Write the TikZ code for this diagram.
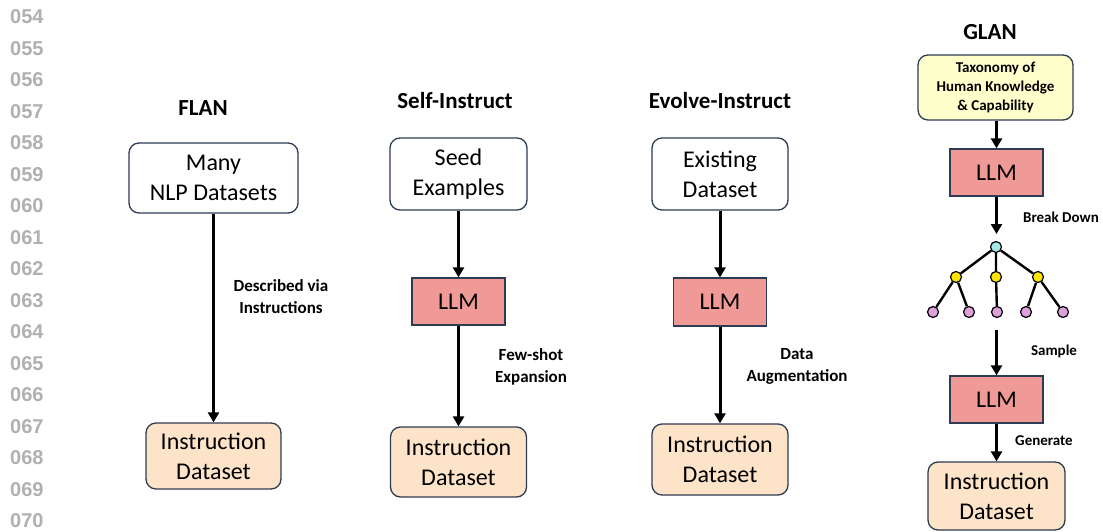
\documentclass[tikz,border=0pt]{standalone}
\usepackage{fontspec}
\setmainfont{Carlito}
\newfontfamily\numfont{Liberation Sans}
\usetikzlibrary{arrows.meta}
\definecolor{bordc}{HTML}{2E3B52}
\definecolor{llmc}{HTML}{F09A98}
\definecolor{peach}{HTML}{FDE4C8}
\definecolor{paley}{HTML}{FFFFCC}
\definecolor{rootc}{HTML}{A6E8E8}
\definecolor{midc}{HTML}{FFE600}
\definecolor{leafc}{HTML}{DDA0DD}
\definecolor{numc}{HTML}{B0B0B0}
\tikzset{
  x=1pt,y=-1pt,
  boxtext/.style={font=\fontsize{24}{30}\selectfont, align=center, inner sep=0pt},
  inbox/.style={boxtext, draw=bordc, line width=1.3pt, rounded corners=10pt, fill=white},
  outbox/.style={inbox, fill=peach},
  llmbox/.style={boxtext, draw=bordc, line width=1.3pt, fill=llmc},
  taxbox/.style={draw=bordc, line width=1.3pt, rounded corners=10pt, fill=paley, align=center,
     font=\fontsize{15}{19}\bfseries\selectfont, inner sep=0pt},
  title/.style={font=\fontsize{23}{23}\bfseries\selectfont},
  lab/.style={font=\fontsize{17}{22}\bfseries\selectfont, align=center},
  slab/.style={font=\fontsize{15}{19}\bfseries\selectfont, align=center},
  flow/.style={line width=3pt, -{Triangle[width=11pt,length=10pt]}},
  tnode/.style={circle, draw=black, line width=1.2pt, minimum size=11pt, inner sep=0pt},
  tedge/.style={line width=2.4pt},
  lnum/.style={font=\numfont\fontsize{20}{20}\bfseries\selectfont, text=numc, anchor=west, inner sep=0pt}
}
\begin{document}
\begin{tikzpicture}
\useasboundingbox (0,0) rectangle (1103,532);
% line numbers
\foreach \n [count=\i from 0] in {054,055,056,057,058,059,060,061,062,063,064,065,066,067,068,069,070}
  \node[lnum] (ln\i) at (10,{17+31.5*\i}) {\n};

% FLAN
\node[title] (tflan) at (203,108) {FLAN};
\node[inbox, minimum width=169pt, minimum height=70pt] (ftop) at (213.5,178) {Many\\NLP Datasets};
\node[outbox, minimum width=135pt, minimum height=66pt] (fbot) at (213.5,456) {Instruction\\Dataset};
\draw[flow] (ftop) -- (fbot);
\node[lab] (lflan) at (281,297) {Described via\\Instructions};

% Self-Instruct
\node[title] (tsi) at (455,101) {Self-Instruct};
\node[inbox, minimum width=137pt, minimum height=72pt] (stop) at (458.5,174) {Seed\\Examples};
\node[llmbox, minimum width=93pt, minimum height=47pt] (sllm) at (458.5,301.5) {LLM};
\node[outbox, minimum width=136pt, minimum height=70pt] (sbot) at (458.5,462) {Instruction\\Dataset};
\draw[flow] (stop) -- (sllm);
\draw[flow] (sllm) -- (sbot);
\node[lab] (lsi) at (531,367) {Few-shot\\Expansion};

% Evolve-Instruct
\node[title] (tev) at (720,101) {Evolve-Instruct};
\node[inbox, minimum width=136pt, minimum height=72pt] (etop) at (720,174) {Existing\\Dataset};
\node[llmbox, minimum width=93pt, minimum height=48pt] (ellm) at (720,302) {LLM};
\node[outbox, minimum width=136pt, minimum height=71pt] (ebot) at (720,459.5) {Instruction\\Dataset};
\draw[flow] (etop) -- (ellm);
\draw[flow] (ellm) -- (ebot);
\node[lab] (lev) at (797,366) {Data\\Augmentation};

% GLAN
\node[title] (tgl) at (990,32) {GLAN};
\node[taxbox, minimum width=155pt, minimum height=65pt] (gtax) at (995.5,87.5) {Taxonomy of\\Human Knowledge\\\& Capability};
\node[llmbox, minimum width=93pt, minimum height=47pt] (gllm1) at (996.5,172.5) {LLM};
\draw[flow] (gtax.south -| gllm1) -- (gllm1);
\coordinate (bdend) at (996.5,234);
\draw[flow] (gllm1) -- (bdend);
\node[slab] (lbd) at (1061,217) {Break Down};

% tree
\node[tnode, fill=rootc] (root) at (996,247) {};
\node[tnode, fill=midc] (m1) at (956,277) {};
\node[tnode, fill=midc] (m2) at (996,277) {};
\node[tnode, fill=midc] (m3) at (1038,277) {};
\node[tnode, fill=leafc] (l1) at (933,312) {};
\node[tnode, fill=leafc] (l2) at (969,312) {};
\node[tnode, fill=leafc] (l3) at (997,312) {};
\node[tnode, fill=leafc] (l4) at (1026,312) {};
\node[tnode, fill=leafc] (l5) at (1063,312) {};
\draw[tedge] (root) -- (m1) (root) -- (m2) (root) -- (m3)
  (m1) -- (l1) (m1) -- (l2) (m2) -- (l3) (m3) -- (l4) (m3) -- (l5);

\coordinate (sstart) at (996.5,330);
\node[llmbox, minimum width=93pt, minimum height=47pt] (gllm2) at (996.5,399.5) {LLM};
\draw[flow] (sstart) -- (gllm2);
\node[slab] (lsa) at (1054,351) {Sample};
\node[outbox, minimum width=137pt, minimum height=68pt] (gbot) at (996.5,496) {Instruction\\Dataset};
\draw[flow] (gllm2) -- (gbot);
\node[slab] (lge) at (1044,441) {Generate};
\end{tikzpicture}
\end{document}
